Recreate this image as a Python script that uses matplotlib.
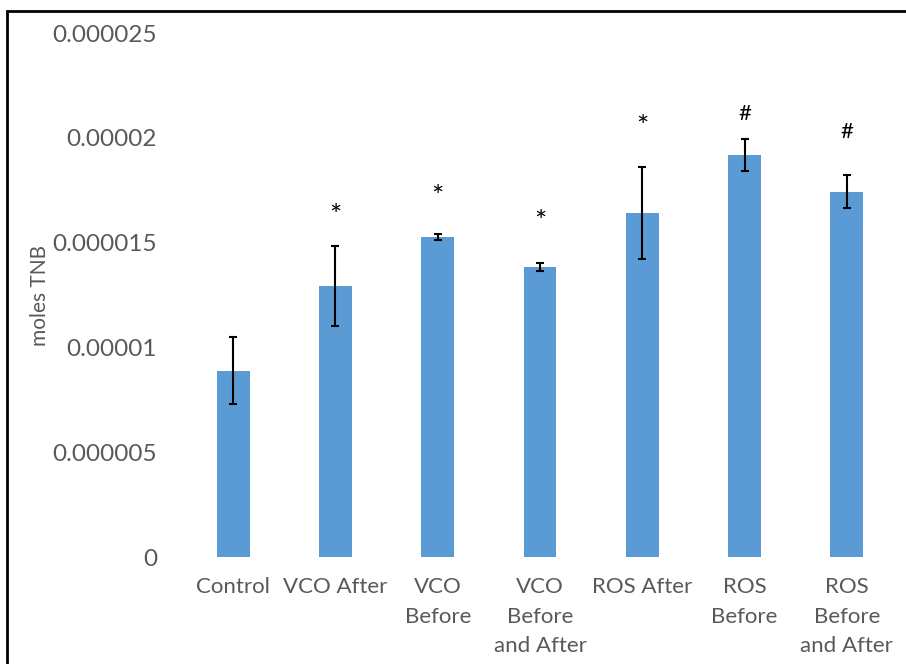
import matplotlib.pyplot as plt
from matplotlib.patches import Rectangle

# moles TNB per treatment group
groups = ['Control', 'VCO After', 'VCO\nBefore', 'VCO\nBefore\nand After',
          'ROS After', 'ROS\nBefore', 'ROS\nBefore\nand After']
means = [8.90e-6, 12.95e-6, 15.28e-6, 13.83e-6, 16.42e-6, 19.19e-6, 17.44e-6]
errors = [1.60e-6, 1.90e-6, 0.16e-6, 0.19e-6, 2.17e-6, 0.77e-6, 0.80e-6]

# significance marks and the height they sit at
marks = ['', '*', '*', '*', '*', '#', '#']
mark_y = [0, 16.25e-6, 17.15e-6, 15.96e-6, 20.45e-6, 21.16e-6, 20.26e-6]

yticks = [0, 0.000005, 0.00001, 0.000015, 0.00002, 0.000025]
ytick_labels = ['0', '0.000005', '0.00001', '0.000015', '0.00002', '0.000025']

if __name__ == '__main__':
    plt.rcParams['font.family'] = ['Lato', 'DejaVu Sans']
    grey = '#595959'

    fig = plt.figure(figsize=(9.06, 6.64), dpi=100)
    ax = fig.add_axes([0.2009, 0.1604, 0.7902, 0.7899])

    x = list(range(len(groups)))
    ax.bar(x, means, width=0.32, color='#5B9BD5', zorder=2)
    ax.errorbar(x, means, yerr=errors, fmt='none', ecolor='black',
                elinewidth=1.5, capsize=3, capthick=1.5, zorder=3)

    for xi, m, my in zip(x, marks, mark_y):
        if m == '*':
            ax.text(xi, my, m, ha='center', va='center', fontsize=21,
                    color='black')
        elif m:
            ax.text(xi, my, m, ha='center', va='center', fontsize=16,
                    color='black')

    ax.set_xlim(-0.5, len(groups) - 0.5)
    ax.set_ylim(0, 0.000025)
    ax.set_yticks(yticks)
    ax.set_yticklabels(ytick_labels)
    ax.set_xticks(x)
    ax.set_xticklabels(groups, linespacing=1.6)
    ax.tick_params(axis='y', length=0, pad=18, labelsize=17.5, labelcolor=grey)
    ax.tick_params(axis='x', length=0, pad=14, labelsize=16, labelcolor=grey)
    for s in ax.spines.values():
        s.set_visible(False)

    ax.set_ylabel('moles TNB', fontsize=15, color=grey)
    ax.yaxis.set_label_coords(-0.185, 0.5)

    # chart border
    fig.patches.append(Rectangle((7 / 906, -0.05), 1.2, 1 - 11 / 664 + 0.05,
                                 transform=fig.transFigure, fill=False,
                                 edgecolor='black', linewidth=2))

    fig.savefig('out.png', dpi=100)
